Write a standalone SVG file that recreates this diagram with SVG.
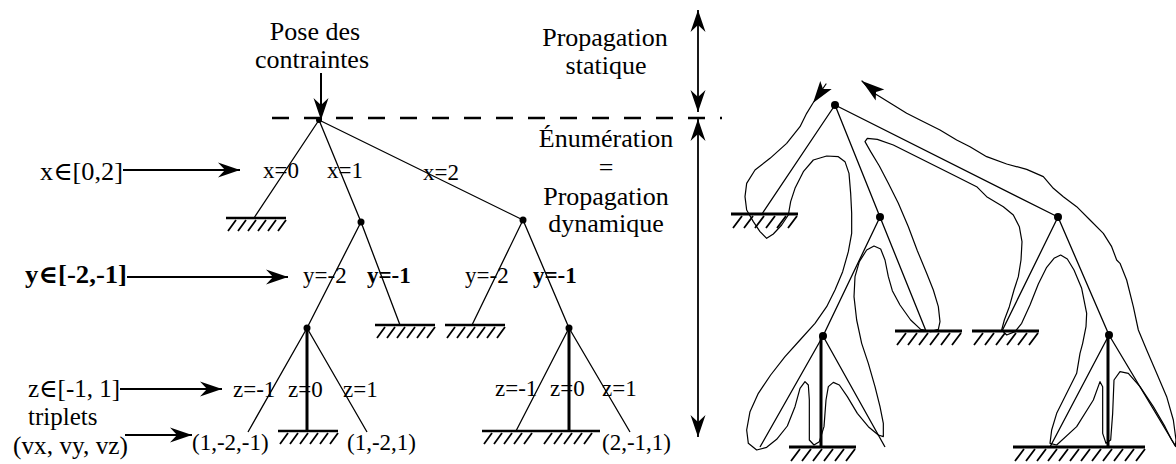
<svg xmlns="http://www.w3.org/2000/svg" width="1176" height="464" viewBox="0 0 1176 464" font-family="'Liberation Serif', 'DejaVu Serif', serif">
<style>
  text { font-family: "Liberation Serif", "DejaVu Serif", serif; fill: #000; }
  .big { font-size: 26px; }
  .side { font-size: 25px; }
  .lab { font-size: 23px; }
  .edge { stroke: #000; stroke-width: 1.3; fill: none; }
  .thick { stroke: #000; stroke-width: 3; fill: none; }
  .arr { stroke: #000; stroke-width: 2; fill: none; marker-end: url(#ah); }
  .darr { stroke: #000; stroke-width: 1.8; fill: none; marker-end: url(#ah); marker-start: url(#ahs); }
  .dot { fill: #000; }
  .contour { stroke: #000; stroke-width: 3.6; fill: none; stroke-linejoin: round; stroke-linecap: round; }
</style>
<defs>
  <marker id="ah" markerUnits="userSpaceOnUse" markerWidth="22" markerHeight="18" viewBox="0 0 22 18" refX="22" refY="9" orient="auto">
    <path d="M0,1.5 L22,9 L0,16.5 L7,9 Z" fill="#000"/>
  </marker>
  <marker id="ahs" markerUnits="userSpaceOnUse" markerWidth="22" markerHeight="18" viewBox="0 0 22 18" refX="22" refY="9" orient="auto-start-reverse">
    <path d="M0,1.5 L22,9 L0,16.5 L7,9 Z" fill="#000"/>
  </marker>
  <g id="hatch60">
    <path d="M0,0 H60" stroke="#000" stroke-width="2.5"/>
    <path d="M2,13 L10,2 M12,13 L20,2 M22,13 L30,2 M32,13 L40,2 M42,13 L50,2 M52,13 L60,2" stroke="#000" stroke-width="1.8"/>
  </g>
  <g id="hatch118">
    <path d="M0,0 H118" stroke="#000" stroke-width="2.5"/>
    <path d="M2,13 L10,2 M12,13 L20,2 M22,13 L30,2 M32,13 L40,2 M42,13 L50,2 M62,13 L70,2 M72,13 L80,2 M82,13 L90,2 M92,13 L100,2 M102,13 L110,2" stroke="#000" stroke-width="1.8"/>
  </g>
  <g id="hatch67">
    <path d="M0,0 H67" stroke="#000" stroke-width="3"/>
    <path d="M2,14 L11,2 M13,14 L22,2 M24,14 L33,2 M35,14 L44,2 M46,14 L55,2 M57,14 L66,2" stroke="#000" stroke-width="1.8"/>
  </g>
  <g id="hatch132">
    <path d="M0,0 H132" stroke="#000" stroke-width="3"/>
    <path d="M2,14 L11,2 M13,14 L22,2 M24,14 L33,2 M35,14 L44,2 M46,14 L55,2 M57,14 L66,2 M68,14 L77,2 M79,14 L88,2 M90,14 L99,2 M101,14 L110,2 M112,14 L121,2 M123,14 L132,2" stroke="#000" stroke-width="1.8"/>
  </g>
</defs>

<!-- headings -->
<g id="pose">
  <text class="big" x="315" y="40" text-anchor="middle">Pose des</text>
  <text class="big" x="312" y="68" text-anchor="middle">contraintes</text>
</g>
<g id="statique">
  <text class="big" x="605" y="46" text-anchor="middle">Propagation</text>
  <text class="big" x="606" y="74" text-anchor="middle">statique</text>
</g>
<g id="dynamique">
  <text class="big" x="606" y="147" text-anchor="middle">Énumération</text>
  <text class="big" x="606" y="176" text-anchor="middle">=</text>
  <text class="big" x="606" y="205" text-anchor="middle">Propagation</text>
  <text class="big" x="606" y="232" text-anchor="middle">dynamique</text>
</g>

<!-- side labels -->
<g id="side-x"><text class="side" x="40" y="180" textLength="83" lengthAdjust="spacingAndGlyphs">x∈[0,2]</text></g>
<g id="side-y"><text class="side" x="25" y="283" font-weight="bold" textLength="102" lengthAdjust="spacingAndGlyphs">y∈[-2,-1]</text></g>
<g id="side-z"><text class="side" x="28" y="397" textLength="92" lengthAdjust="spacingAndGlyphs">z∈[-1, 1]</text></g>
<g id="side-t">
  <text class="side" x="28" y="425">triplets</text>
  <text class="side" x="13" y="454" textLength="115" lengthAdjust="spacingAndGlyphs">(vx, vy, vz)</text>
</g>

<!-- left tree nodes -->
<g id="n-root"><circle class="dot" cx="319" cy="120" r="3"/></g>
<g id="n-x1"><circle class="dot" cx="361" cy="222" r="3.5"/></g>
<g id="n-x2"><circle class="dot" cx="523" cy="220" r="3.5"/></g>
<g id="n-x1y2"><circle class="dot" cx="307" cy="328" r="3.5"/></g>
<g id="n-x2y1"><circle class="dot" cx="569" cy="328" r="3.5"/></g>
<g id="leaf-x0"><use href="#hatch60" x="226" y="218"/></g>
<g id="leaf-x1y1"><use href="#hatch60" x="375" y="325"/></g>
<g id="leaf-x2y2"><use href="#hatch60" x="445" y="325"/></g>
<g id="leaf-x1y2z0"><use href="#hatch60" x="278" y="431"/></g>
<g id="leaf-x2y1z"><use href="#hatch118" x="482" y="431"/></g>

<!-- left tree labels -->
<g id="labels-left">
  <text class="lab" x="263" y="178">x=0</text>
  <text class="lab" x="327" y="178">x=1</text>
  <text class="lab" x="423" y="180">x=2</text>
  <text class="lab" x="303" y="283">y=-2</text>
  <text class="lab" x="367" y="283" font-weight="bold">y=-1</text>
  <text class="lab" x="465" y="283">y=-2</text>
  <text class="lab" x="533" y="283" font-weight="bold">y=-1</text>
  <text class="lab" x="233" y="397">z=-1</text>
  <text class="lab" x="288" y="397">z=0</text>
  <text class="lab" x="343" y="397">z=1</text>
  <text class="lab" x="495" y="396">z=-1</text>
  <text class="lab" x="550" y="396">z=0</text>
  <text class="lab" x="602" y="396">z=1</text>
  <text class="lab" x="192" y="450">(1,-2,-1)</text>
  <text class="lab" x="347" y="450">(1,-2,1)</text>
  <text class="lab" x="602" y="450">(2,-1,1)</text>
</g>

<!-- right tree nodes -->
<g id="r-root"><circle class="dot" cx="835" cy="105" r="4"/></g>
<g id="r-n1"><circle class="dot" cx="880" cy="217" r="4"/></g>
<g id="r-n2"><circle class="dot" cx="1058" cy="217" r="4"/></g>
<g id="r-n3"><circle class="dot" cx="823" cy="336" r="4"/></g>
<g id="r-n4"><circle class="dot" cx="1109" cy="335" r="4"/></g>
<g id="r-leaf1"><use href="#hatch67" x="731" y="214"/></g>
<g id="r-leaf2"><use href="#hatch67" x="895" y="331"/></g>
<g id="r-leaf3"><use href="#hatch67" x="972" y="331"/></g>
<g id="r-leaf4"><use href="#hatch67" x="789" y="447"/></g>
<g id="r-leaf5"><use href="#hatch132" x="1013" y="447"/></g>

<!-- connectors -->
<g id="connectors">
  <path d="M272,118 H722" stroke="#000" stroke-width="2.5" stroke-dasharray="17 15"/>
  <path class="arr" d="M321,73 V120"/>
  <path class="arr" d="M123,170 H240"/>
  <path class="arr" d="M127,277 H288"/>
  <path class="arr" d="M120,389 H222"/>
  <path class="arr" d="M125,435 H192"/>
  <path class="darr" d="M698,10 V112"/>
  <path class="darr" d="M698,119 V437"/>

  <!-- left tree edges -->
  <path class="edge" d="M319,120 L254,218 M319,120 L361,222 M319,120 L523,220"/>
  <path class="edge" d="M361,222 L307,328 M361,222 L400,325 M523,220 L472,325 M523,220 L569,328"/>
  <path class="edge" d="M307,328 L248,432 M307,328 L367,432 M569,328 L516,431 M569,328 L630,432"/>
  <path class="thick" d="M307,328 V431 M569,328 V431"/>

  <!-- right tree edges -->
  <path class="edge" d="M835,105 L762,214 M835,105 L880,217 M835,105 L1058,217"/>
  <path class="edge" d="M880,217 L823,336 M880,217 L926,331 M1058,217 L1002,331 M1058,217 L1109,335"/>
  <path class="edge" d="M823,336 L760,447 M823,336 L885,447 M1109,335 L1050,447 M1109,335 L1176,447"/>
  <path class="thick" d="M821,336 V447 M1108,335 V447"/>

  <!-- traversal contour -->
  <g transform="translate(700,60) scale(0.3333333)">
    <path class="contour" d="M378,72 L339,129 L320,160 L300,200 L260,250 L210,295 L165,330 L140,370 L135,410 L140,450 L160,485 L180,515 L200,535 L220,522 L245,495 L265,465 L272,425 L285,385 L310,335 L340,300 L380,288 L415,290 L435,305 L447,340 L452,400 L455,460 L455,520 L445,575 L428,635 L405,690 L380,740 L345,790 L300,840 L255,890 L212,945 L175,1000 L150,1055 L140,1110 L145,1150 L170,1170 L200,1162 L230,1138 L262,1098 L285,1040 L300,985 L315,965 L325,975 L328,1020 L328,1140 L342,1155 L358,1145 L372,1100 L378,1020 L385,980 L400,967 L418,975 L442,1010 L472,1060 L505,1100 L535,1125 L550,1130 L550,1090 L540,1040 L525,980 L505,910 L485,850 L470,780 L462,710 L465,650 L478,605 L500,570 L522,558 L542,567 L555,600 L565,650 L577,692 L600,735 L632,780 L662,808 L692,815 L715,808 L720,785 L715,740 L700,690 L680,640 L652,572 L625,500 L595,430 L565,370 L538,318 L512,275 L495,245 L502,235 L532,238 L580,255 L640,285 L700,315 L760,345 L830,380 L860,410 L910,440 L940,465 L958,500 L966,545 L963,600 L955,650 L942,690 L928,740 L913,780 L905,810 L920,825 L945,815 L965,790 L990,735 L1015,672 L1040,622 L1062,595 L1082,585 L1102,597 L1122,630 L1145,685 L1160,760 L1158,800 L1148,850 L1140,880 L1130,940 L1100,1000 L1070,1060 L1055,1110 L1050,1150 L1070,1155 L1130,1100 L1180,1020 L1200,965 L1208,980 L1208,1120 L1218,1150 L1232,1140 L1238,1060 L1242,960 L1260,935 L1285,940 L1320,980 L1360,1040 L1395,1100 L1415,1140 L1426,1158 L1428,1140 L1420,1080 L1400,1010 L1370,940 L1340,870 L1315,810 L1300,740 L1280,660 L1260,610 L1250,600 L1235,560 L1210,520 L1170,480 L1130,440 L1090,410 L1060,385 L1030,350 L980,328 L920,312 L860,290 L810,260 L770,240 L720,210 L660,180 L620,160 L580,135 L540,110 L515,95 L486,63"/>
  </g>
  <path d="M813,103 L831.7,89.1 L823,89 L820.3,80.9 Z" fill="#000"/>
  <path d="M862,81 L884.3,89.5 L876,92 L875.7,100.5 Z" fill="#000"/>
</g>
</svg>
